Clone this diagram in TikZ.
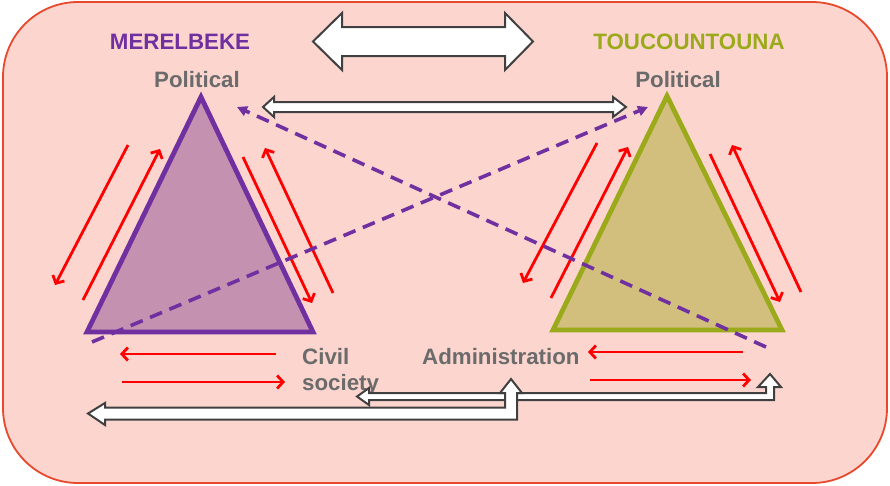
\documentclass[tikz,border=0pt]{standalone}
\usepackage{fontspec}
\setmainfont{Liberation Sans}
\usetikzlibrary{arrows.meta}
\definecolor{bgpink}{HTML}{FCD5CF}
\definecolor{bgline}{HTML}{E8482C}
\definecolor{merpurple}{HTML}{7030A0}
\definecolor{tougreen}{HTML}{9BAA1A}
\definecolor{trifillL}{HTML}{C491B0}
\definecolor{trifillR}{HTML}{D2BF7E}
\definecolor{labelgray}{HTML}{6B6B6B}
\definecolor{blockline}{HTML}{404040}
\begin{document}
\begin{tikzpicture}[x=1pt,y=-1pt,
  lbl/.style={font=\fontsize{22.3}{26}\selectfont\bfseries, inner sep=0pt, text=labelgray},
  title/.style={font=\fontsize{22.3}{26}\selectfont\bfseries, inner sep=0pt},
  redarrow/.style={draw=red, line width=2.8pt, -{Straight Barb[length=6pt,width=13pt]}},
  dasharrow/.style={draw=merpurple, line width=3.6pt, dash pattern=on 13pt off 8pt, -{Triangle[length=10pt,width=10pt]}},
  blockarrow/.style={draw=blockline, fill=white, line width=2pt, line join=miter},
  tri/.style={line width=4.8pt, line join=miter}]
\useasboundingbox (0,0) rectangle (890,485);
% background
\draw[fill=bgpink, draw=bgline, line width=1.8pt, rounded corners=75pt] (3,2) rectangle (887,483);

% top double arrow
\draw[blockarrow] (313,41.5) -- (342,13) -- (342,27) -- (505,27) -- (505,13) -- (533,41.5)
  -- (505,70) -- (505,56) -- (342,56) -- (342,70) -- cycle;
% middle double arrow
\draw[blockarrow] (263,107) -- (274,97) -- (274,102) -- (613,102) -- (613,97) -- (626,107)
  -- (613,117) -- (613,112) -- (274,112) -- (274,117) -- cycle;

% titles
\node[title, text=merpurple, anchor=base] (mer) at (180,49) {MERELBEKE};
\node[title, text=tougreen, anchor=base] (tou) at (689,49) {TOUCOUNTOUNA};
\node[lbl, anchor=base] (polL) at (197,87) {Political};
\node[lbl, anchor=base] (polR) at (678,87) {Political};
\node[lbl, anchor=base west, align=left] (civ) at (302,390) {Civil\\society};
\node[lbl, anchor=base west] (adm) at (422,364) {Administration};

% triangles
\coordinate (LA) at (201,97);
\coordinate (LB) at (87,332);
\coordinate (LC) at (313,332);
\coordinate (RA) at (667,96);
\coordinate (RB) at (553,330);
\coordinate (RC) at (782,330);
\draw[tri, fill=trifillL, draw=merpurple] (LA) -- (LB) -- (LC) -- cycle;
\draw[tri, fill=trifillR, draw=tougreen] (RA) -- (RB) -- (RC) -- cycle;

% red arrows left triangle
\coordinate (l1s) at (128,145); \coordinate (l1e) at (55,285);
\coordinate (l2s) at (83,300);  \coordinate (l2e) at (160,149);
\coordinate (l3s) at (243,157); \coordinate (l3e) at (312,303);
\coordinate (l4s) at (333,293); \coordinate (l4e) at (265,148);
\coordinate (l5s) at (276,354); \coordinate (l5e) at (120,354);
\coordinate (l6s) at (122,382); \coordinate (l6e) at (285,382);
\draw[redarrow] (l1s) -- (l1e);
\draw[redarrow] (l2s) -- (l2e);
\draw[redarrow] (l3s) -- (l3e);
\draw[redarrow] (l4s) -- (l4e);
\draw[redarrow] (l5s) -- (l5e);
\draw[redarrow] (l6s) -- (l6e);

% red arrows right triangle
\coordinate (r1s) at (597,143); \coordinate (r1e) at (523,283);
\coordinate (r2s) at (551,298); \coordinate (r2e) at (628,147);
\coordinate (r3s) at (710,154); \coordinate (r3e) at (780,302);
\coordinate (r4s) at (801,292); \coordinate (r4e) at (732,145);
\coordinate (r5s) at (743,352); \coordinate (r5e) at (588,352);
\coordinate (r6s) at (590,380); \coordinate (r6e) at (751,380);
\draw[redarrow] (r1s) -- (r1e);
\draw[redarrow] (r2s) -- (r2e);
\draw[redarrow] (r3s) -- (r3e);
\draw[redarrow] (r4s) -- (r4e);
\draw[redarrow] (r5s) -- (r5e);
\draw[redarrow] (r6s) -- (r6e);

% dashed purple arrows
\coordinate (d1s) at (92,342);  \coordinate (d1e) at (648,107);
\coordinate (d2s) at (766,347); \coordinate (d2e) at (237,107);
\draw[dasharrow] (d1s) -- (d1e);
\draw[dasharrow] (d2s) -- (d2e);

% bent block arrows (bottom)
\draw[blockarrow] (357,396.5) -- (369,388) -- (369,393) -- (766,393) -- (766,387) -- (758,387)
  -- (770,374) -- (781,387) -- (774,387) -- (774,400) -- (369,400) -- (369,405) -- cycle;
\draw[blockarrow] (88,413.5) -- (105,403) -- (105,407.5) -- (505,407.5) -- (505,393) -- (500,393)
  -- (511,379) -- (522,393) -- (517,393) -- (517,419.5) -- (105,419.5) -- (105,425) -- cycle;
\end{tikzpicture}
\end{document}
